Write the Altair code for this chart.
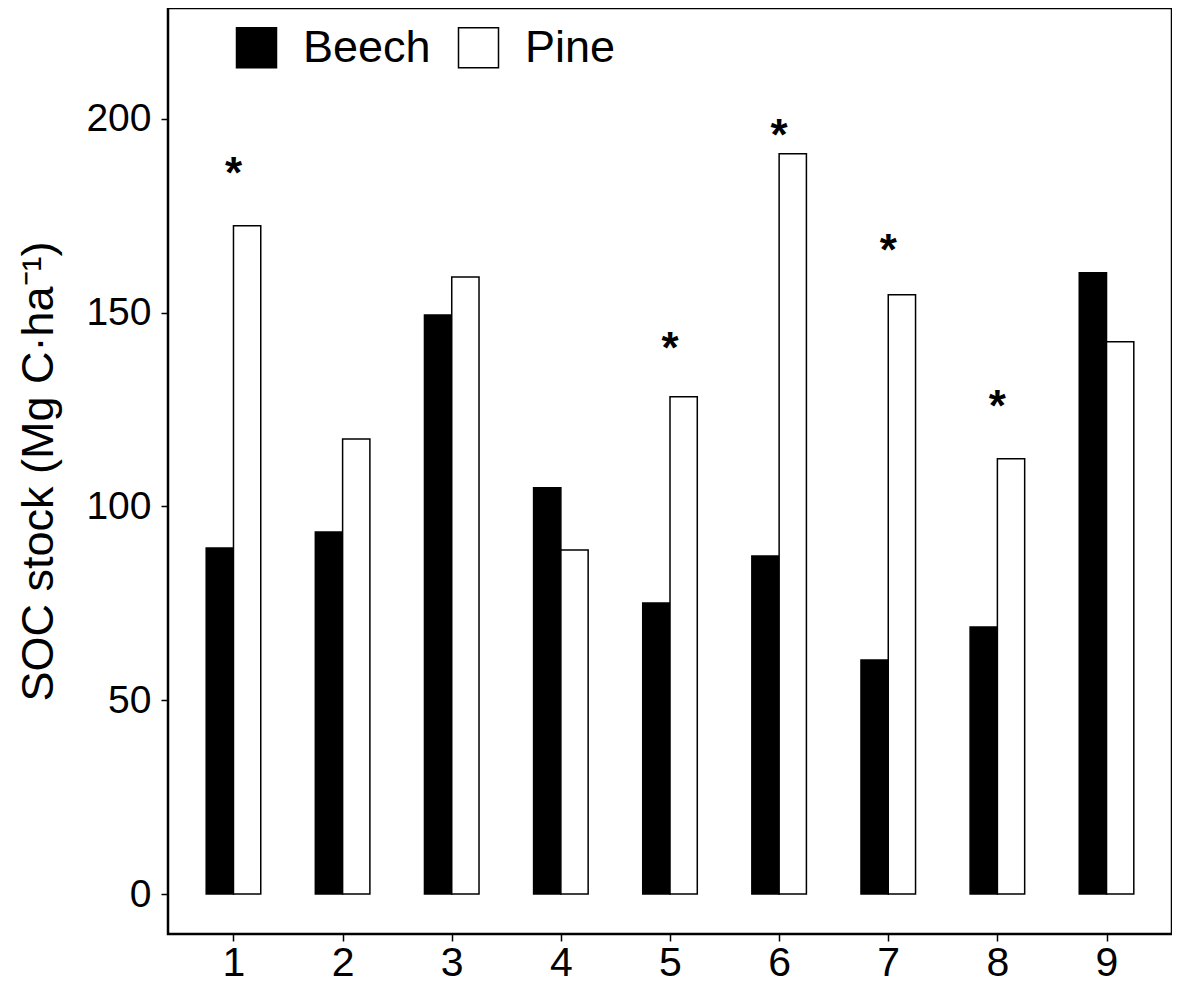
import altair as alt
import pandas as pd

sites = [1, 2, 3, 4, 5, 6, 7, 8, 9]
beech = [89.3, 93.4, 149.4, 104.8, 75.1, 87.2, 60.4, 68.9, 160.3]
pine = [172.4, 117.4, 159.2, 88.8, 128.3, 191.0, 154.6, 112.3, 142.5]
star_sites = [1, 5, 6, 7, 8]
star_y = [186.6, 141.4, 196.4, 166.7, 126.5]
species = ["Beech", "Pine"]

rows = []
for s, b, p in zip(sites, beech, pine):
    rows.append({"site": s, "species": "Beech", "soc": b})
    rows.append({"site": s, "species": "Pine", "soc": p})
df = pd.DataFrame(rows)
stars = pd.DataFrame({"site": star_sites, "y": star_y})

FONT = "Liberation Sans"
xscale = alt.Scale(domain=[0.4, 9.6], nice=False, zero=False)
yscale = alt.Scale(domain=[-10.3, 228.6], nice=False, zero=False)

xaxis = alt.Axis(values=sites, format="d", title=None, grid=False,
                 labelFontSize=41, labelPadding=2)
yaxis = alt.Axis(values=[0, 50, 100, 150, 200], format="d", grid=False,
                 title="SOC stock (Mg C·ha⁻¹)",
                 titleFontSize=45, titleFontWeight="normal",
                 titlePadding=24, labelFontSize=39, labelPadding=10)

bars = alt.Chart(df).transform_calculate(
    x0="datum.site + (datum.species == 'Beech' ? -0.25 : 0)",
    x1="datum.site + (datum.species == 'Beech' ? 0 : 0.25)",
    base="0",
).mark_bar(stroke="black", strokeWidth=1.5).encode(
    x=alt.X("x0:Q", scale=xscale, axis=xaxis),
    x2="x1:Q",
    y=alt.Y("soc:Q", scale=yscale, axis=yaxis),
    y2="base:Q",
    color=alt.Color("species:N",
                    scale=alt.Scale(domain=species, range=["black", "white"]),
                    legend=alt.Legend(title=None, orient="none", direction="horizontal",
                                      legendX=66, legendY=17,
                                      symbolType="square", symbolSize=1600,
                                      symbolStrokeColor="black", symbolStrokeWidth=1.5,
                                      labelFontSize=45, labelOffset=24,
                                      columnPadding=24, labelColor="black",
                                      labelFont=FONT)),
)

star_layer = alt.Chart(stars).mark_text(
    text="*", fontSize=44, fontWeight="bold", font=FONT, color="black",
    baseline="alphabetic", dy=17,
).encode(
    x=alt.X("site:Q", scale=xscale, axis=xaxis),
    y=alt.Y("y:Q", scale=yscale, axis=yaxis),
)

chart = alt.layer(bars, star_layer).properties(
    width=1004, height=926,
    autosize=alt.AutoSizeParams(type="none"),
    padding={"left": 160, "top": 0, "right": 0, "bottom": 56},
).configure_view(
    stroke="black", strokeWidth=2.5,
).configure_axis(
    domain=False, grid=False, tickColor="black", tickSize=7, tickWidth=1.5,
    labelColor="black", titleColor="black", labelFont=FONT, titleFont=FONT,
)

chart.save("out.html", embed_options={"renderer": "svg", "actions": False})
